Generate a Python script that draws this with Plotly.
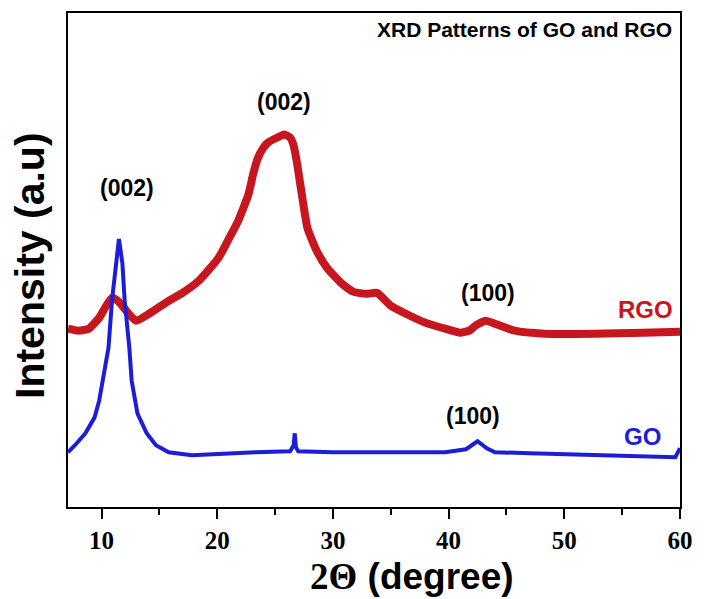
import plotly.graph_objects as go

# 2-theta (degree) sample positions and intensities (a.u.)
rgo_2theta = [7.1, 8.0, 8.9, 9.8, 10.4, 10.9, 11.4, 12.0, 12.5, 13.0, 14.1, 15.8, 17.0,
              18.4, 20.1, 20.9, 21.8, 22.7, 23.1, 23.5, 24.0, 24.4, 25.2, 25.8, 26.3,
              26.6, 26.9, 27.4, 27.8, 28.6, 29.5, 30.8, 31.8, 32.9, 33.8, 35.0, 36.3,
              38.0, 39.7, 41.0, 41.8, 42.3, 43.2, 44.0, 45.7, 48.3, 52.6, 56.8, 60.0]
rgo_intensity = [358, 354, 358, 380, 404, 420, 414, 398, 384, 374, 388, 414, 430,
                 454, 500, 534, 574, 628, 668, 700, 722, 732, 742, 748, 742,
                 726, 690, 614, 560, 514, 480, 448, 432, 428, 430, 404, 388,
                 370, 358, 350, 354, 364, 374, 368, 354, 348, 348, 350, 352]

go_2theta = [7.1, 7.7, 8.6, 9.4, 9.8, 10.1, 10.35, 10.6, 10.9, 11.3, 11.5, 11.8, 12.0,
             12.4, 12.6, 13.1, 13.9, 14.7, 15.8, 17.8, 20.7, 23.3, 26.3, 26.6, 26.7,
             26.8, 27.0, 30.0, 35.0, 39.7, 41.5, 42.5, 43.3, 44.0, 47.0, 50.0, 55.0,
             59.6, 60.0]
go_intensity = [110, 124, 148, 180, 214, 254, 284, 320, 414, 504, 538, 490, 414,
                320, 254, 188, 148, 124, 110, 104, 108, 110, 112, 124, 148,
                120, 112, 110, 110, 110, 116, 132, 118, 110, 108, 106, 102,
                100, 118]

x_ticks = [10, 20, 30, 40, 50, 60]
x_tick_labels = ["10", "20", "30", "40", "50", "60"]

RED = "rgb(200,22,30)"
BLUE = "rgb(28,30,215)"

fig = go.Figure()
fig.add_trace(go.Scatter(x=rgo_2theta, y=rgo_intensity, mode="lines",
                         line=dict(color=RED, width=8, shape="spline", smoothing=0.5),
                         showlegend=False))
fig.add_trace(go.Scatter(x=go_2theta, y=go_intensity, mode="lines",
                         line=dict(color=BLUE, width=4), showlegend=False))

sans = "Liberation Sans"
ann = []
def label(text, x, y, size=23, color="black"):
    ann.append(dict(text=text, x=x, y=y, xref="x", yref="y", showarrow=False,
                    font=dict(family=sans, size=size, color=color, weight="bold")))

label("(002)", 12.2, 640)
label("(002)", 25.8, 814)
label("(100)", 43.4, 430)
label("(100)", 42.1, 182)
label("RGO", 57.0, 396, size=24, color=RED)
label("GO", 56.8, 142, size=24, color=BLUE)

ann.append(dict(text="XRD Patterns of GO and RGO", x=0.99, y=0.966, xref="paper",
                yref="paper", xanchor="right", yanchor="middle", showarrow=False,
                font=dict(family=sans, size=21, color="black", weight="bold")))
ann.append(dict(text="<span style='font-family:Liberation Serif'>2\u0398</span> (degree)",
                x=0.562, y=-0.141, xref="paper", yref="paper",
                xanchor="center", yanchor="middle", showarrow=False,
                font=dict(family=sans, size=37, color="black", weight="bold")))
ann.append(dict(text="Intensity (a.u)", x=-0.062, y=0.488, xref="paper", yref="paper",
                xanchor="center", yanchor="middle", textangle=-90, showarrow=False,
                font=dict(family=sans, size=41, color="black", weight="bold")))

fig.update_layout(
    width=704, height=599,
    margin=dict(l=68, r=17, t=11, b=92),
    paper_bgcolor="white", plot_bgcolor="white",
    annotations=ann,
    xaxis=dict(range=[7.1, 60], tickvals=x_ticks, ticktext=x_tick_labels,
               ticks="outside", ticklen=10, tickwidth=2, tickcolor="black",
               minor=dict(dtick=5, tick0=0, ticks="outside", ticklen=6, tickwidth=2,
                          tickcolor="black"),
               showline=True, linewidth=2, linecolor="black", mirror=True,
               showgrid=False, zeroline=False,
               tickfont=dict(family="Liberation Serif", size=25, color="black",
                             weight="bold")),
    yaxis=dict(range=[0, 992], showticklabels=False, ticks="", showline=True,
               linewidth=2, linecolor="black", mirror=True, showgrid=False,
               zeroline=False),
)

fig.write_html("out.html")
